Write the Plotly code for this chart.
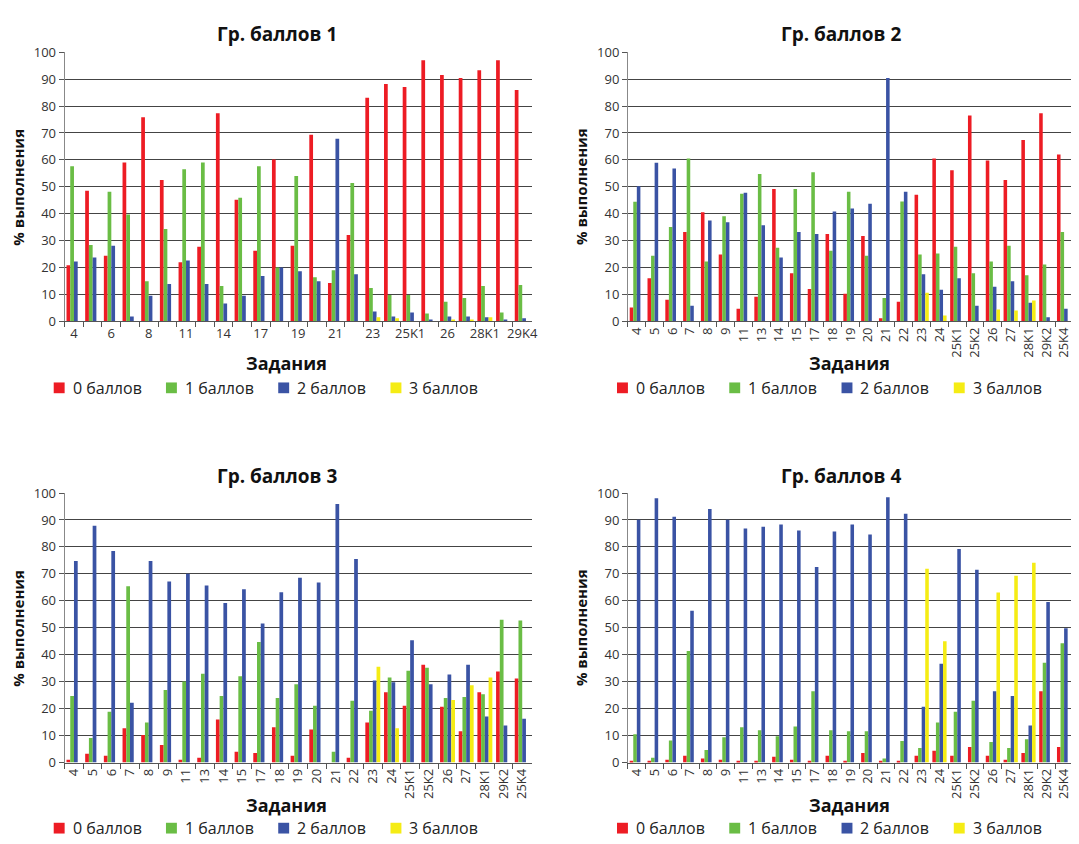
import plotly.graph_objects as go

# task labels (panel 1 ends with 29K4, the others with 25K4)
tasks_1 = ["4", "5", "6", "7", "8", "9", "11", "13", "14", "15", "17", "18", "19", "20",
           "21", "22", "23", "24", "25K1", "25K2", "26", "27", "28K1", "29K2", "29K4"]
tasks_2 = ["4", "5", "6", "7", "8", "9", "11", "13", "14", "15", "17", "18", "19", "20",
           "21", "22", "23", "24", "25K1", "25K2", "26", "27", "28K1", "29K2", "25K4"]

series_names = ["0 баллов", "1 баллов", "2 баллов", "3 баллов"]
colors = ["#ed1c24", "#6abd45", "#3a53a4", "#f5ec14"]

# Гр. баллов 1
g1_0 = [20.8, 48.5, 24.4, 59.0, 75.8, 52.5, 21.9, 27.7, 77.3, 45.2, 26.2, 60.1, 28.1, 69.3,
        14.2, 32.1, 83.1, 88.2, 87.1, 97.0, 91.5, 90.4, 93.3, 97.0, 86.0]
g1_1 = [57.6, 28.4, 48.1, 39.7, 14.9, 34.3, 56.5, 59.0, 13.1, 45.9, 57.6, 20.0, 54.0, 16.4,
        19.0, 51.4, 12.4, 9.8, 9.8, 2.9, 7.3, 8.7, 13.1, 3.3, 13.5]
g1_2 = [22.2, 23.7, 28.1, 1.8, 9.5, 13.9, 22.6, 13.9, 6.6, 9.5, 16.8, 20.0, 18.6, 14.9,
        67.8, 17.5, 3.6, 1.8, 3.3, 0.7, 1.8, 1.8, 1.5, 0.7, 1.1]
g1_3 = [0, 0, 0, 0, 0, 0, 0, 0, 0, 0, 0, 0, 0, 0,
        0, 0, 1.5, 1.1, 0, 0, 0.7, 0.7, 1.5, 0, 0]

# Гр. баллов 2
g2_0 = [5.1, 16.0, 8.0, 33.2, 40.5, 24.8, 4.7, 9.1, 49.2, 17.9, 12.0, 32.4, 10.2, 31.7,
        1.1, 7.3, 47.0, 60.5, 56.1, 76.5, 59.8, 52.5, 67.4, 77.3, 62.0]
g2_1 = [44.4, 24.4, 35.0, 60.5, 22.2, 39.0, 47.4, 54.7, 27.3, 49.2, 55.4, 26.2, 48.1, 24.4,
        8.7, 44.5, 24.8, 25.2, 27.7, 17.9, 22.2, 28.1, 17.1, 21.1, 33.2]
g2_2 = [50.2, 58.9, 56.8, 5.8, 37.5, 36.8, 47.8, 35.7, 23.7, 33.2, 32.4, 40.8, 41.9, 43.7,
        90.4, 48.1, 17.5, 11.7, 16.0, 5.8, 12.8, 14.9, 6.9, 1.5, 4.7]
g2_3 = [0, 0, 0, 0, 0, 0, 0, 0, 0, 0, 0, 0, 0, 0,
        0, 0, 10.6, 2.2, 0, 0, 4.4, 4.0, 7.7, 0, 0]

# Гр. баллов 3
g3_0 = [1.1, 3.3, 2.5, 12.7, 10.2, 6.5, 1.1, 1.8, 16.0, 4.0, 3.6, 13.1, 2.5, 12.3,
        0, 1.8, 14.9, 26.1, 21.1, 36.3, 20.7, 11.6, 26.1, 33.8, 31.2]
g3_1 = [24.7, 9.1, 18.9, 65.4, 14.9, 26.9, 30.1, 33.0, 24.7, 32.0, 44.7, 24.0, 29.1, 21.1,
        4.0, 22.9, 19.2, 31.6, 34.1, 35.2, 24.0, 24.3, 25.4, 53.0, 52.7]
g3_2 = [74.8, 87.9, 78.5, 22.2, 74.8, 67.2, 70.1, 65.7, 59.2, 64.3, 51.6, 63.2, 68.6, 66.8,
        95.9, 75.5, 30.5, 29.8, 45.4, 29.1, 32.7, 36.3, 17.1, 13.8, 16.3]
g3_3 = [0, 0, 0, 0, 0, 0, 0, 0, 0, 0, 0, 0, 0, 0,
        0, 0, 35.6, 12.7, 0, 0, 23.2, 28.7, 31.6, 0, 0]

# Гр. баллов 4
g4_0 = [0.7, 0.7, 1.1, 2.5, 1.5, 1.1, 0.7, 0.7, 2.2, 1.1, 0.7, 2.5, 0.7, 3.6,
        0.7, 0.7, 2.5, 4.4, 2.5, 5.8, 2.5, 1.1, 3.6, 26.5, 5.8]
g4_1 = [10.5, 1.8, 8.2, 41.4, 4.7, 9.4, 13.1, 12.0, 9.8, 13.4, 26.5, 12.0, 11.6, 11.6,
        1.5, 8.0, 5.4, 14.9, 18.9, 22.9, 7.6, 5.4, 8.7, 37.0, 44.3]
g4_2 = [90.1, 98.1, 91.2, 56.3, 94.1, 90.1, 86.8, 87.5, 88.3, 86.1, 72.6, 85.7, 88.3, 84.6,
        98.4, 92.3, 20.7, 36.7, 79.2, 71.5, 26.5, 24.7, 13.8, 59.6, 49.8]
g4_3 = [0, 0, 0, 0, 0, 0, 0, 0, 0, 0, 0, 0, 0, 0,
        0, 0, 71.9, 45.0, 0, 0, 63.1, 69.3, 74.1, 0, 0]

# the page body has an 8px margin, so the figure is drawn 8px in from the corner
OFF = 8
W, H = 1079 - OFF, 844 - OFF
FONT = "Open Sans"

panels = [
    ("Гр. баллов 1", tasks_1, [g1_0, g1_1, g1_2, g1_3], (64, 534), (44, 319)),
    ("Гр. баллов 2", tasks_2, [g2_0, g2_1, g2_2, g2_3], (631, 1079), (44, 319)),
    ("Гр. баллов 3", tasks_2, [g3_0, g3_1, g3_2, g3_3], (64, 534), (494.5, 770)),
    ("Гр. баллов 4", tasks_2, [g4_0, g4_1, g4_2, g4_3], (631, 1079), (494.5, 770)),
]


def px_x(v):
    return (v - OFF) / W


def px_y(v):
    return 1 - (v - OFF) / H


def label(text, x, y, size, angle=0, xanchor="center"):
    return dict(text=text, x=px_x(x), y=px_y(y), xref="paper", yref="paper",
                xanchor=xanchor, yanchor="middle", showarrow=False, textangle=angle,
                font=dict(family=FONT, size=size, color="#111"))


fig = go.Figure()
layout = {}
annotations = []
shapes = []

for i, (title, cats, data, (x0, x1), (ytop, ybot)) in enumerate(panels):
    n = i + 1
    sfx = "" if n == 1 else str(n)
    for name, col, vals in zip(series_names, colors, data):
        fig.add_trace(go.Bar(x=cats, y=vals, name=name, marker_color=col,
                             marker_line_width=0, xaxis="x" + sfx, yaxis="y" + sfx,
                             showlegend=False))

    if n == 1:
        ticktext = [c if k % 2 == 0 else "" for k, c in enumerate(cats)]
        tickangle = 0
    else:
        ticktext = cats
        tickangle = -90

    layout["xaxis" + sfx] = dict(
        domain=[px_x(x0), min(px_x(x1), 1)], anchor="y" + sfx, type="category",
        tickmode="array", tickvals=cats, ticktext=ticktext, tickangle=tickangle,
        tickson="boundaries", ticks="outside", ticklen=5, tickcolor="#555",
        showline=True, linecolor="#555", linewidth=1, showgrid=False,
        tickfont=dict(family=FONT, size=13, color="#333"),
    )
    layout["yaxis" + sfx] = dict(
        domain=[px_y(ybot), px_y(ytop)], anchor="x" + sfx, range=[0, 100],
        dtick=10, ticks="outside", ticklen=5, tickcolor="#555",
        showline=True, linecolor="#888", linewidth=1,
        showgrid=True, gridcolor="#444", gridwidth=1, zeroline=False,
        tickfont=dict(family=FONT, size=13, color="#333"),
    )

    # legend under each panel: coloured square + label
    leg_y = 387 if n <= 2 else 837
    for k, (name, col) in enumerate(zip(series_names, colors)):
        sx = x0 - 11 + 113 * k
        shapes.append(dict(type="rect", xref="paper", yref="paper",
                           x0=px_x(sx), x1=px_x(sx + 11),
                           y0=px_y(leg_y + 5.5), y1=px_y(leg_y - 5.5),
                           fillcolor=col, line_width=0))
        lab = label(name, sx + 17, leg_y, 16, xanchor="left")
        lab["font"]["color"] = "#222"
        annotations.append(lab)

    title_y = 25 if n <= 2 else 477
    annotations.append(label("<b>%s</b>" % title, x0 + 214, title_y, 19))
    xt_y = 362 if n <= 2 else 813
    annotations.append(label("<b>Задания</b>", x0 + 223, xt_y, 18))
    annotations.append(label("<b>% выполнения</b>", x0 - 47, (ytop + ybot) / 2, 15, angle=-90))

fig.update_layout(
    width=W, height=H, margin=dict(l=0, r=0, t=0, b=0),
    plot_bgcolor="white", paper_bgcolor="white", showlegend=False,
    barmode="group", bargap=0.2, bargroupgap=0,
    annotations=annotations, shapes=shapes, **layout,
)

fig.write_html("out.html")
